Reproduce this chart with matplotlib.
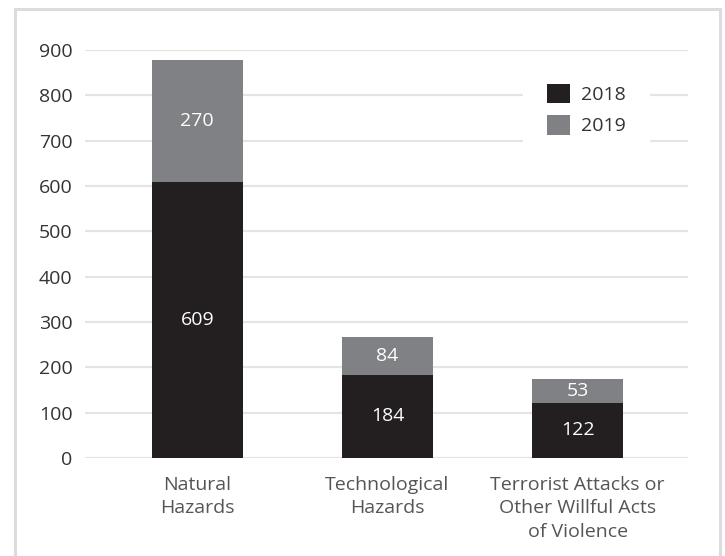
import matplotlib.pyplot as plt
from matplotlib.patches import Rectangle
import numpy as np

plt.rcParams['font.family'] = ['Open Sans', 'DejaVu Sans']

# data
categories = ["Natural\nHazards", "Technological\nHazards",
              "Terrorist Attacks or\nOther Willful Acts\nof Violence"]
series_2018 = [609, 184, 122]
series_2019 = [270, 84, 53]
yticks = [0, 100, 200, 300, 400, 500, 600, 700, 800, 900]

dark = "#231f20"
gray = "#808184"
grid_col = "#e4e4e4"

fig = plt.figure(figsize=(7.25, 5.56), dpi=100)
fig.patch.set_facecolor("white")

# light frame round the chart
fig.patches.append(Rectangle((15 / 725, -0.05), (720 - 15) / 725, 1.05 - 9 / 556,
                             transform=fig.transFigure, fill=False,
                             edgecolor="#dcdcdc", linewidth=2.2))

ax = fig.add_axes([85 / 725, 1 - 458 / 556, (688 - 85) / 725, (458 - 50) / 556])

x = np.arange(len(categories))
w = 0.478
b1 = ax.bar(x, series_2018, width=w, color=dark, label="2018", zorder=3)
b2 = ax.bar(x, series_2019, width=w, bottom=series_2018, color=gray,
            label="2019", zorder=3)

for rect, v in zip(b1, series_2018):
    ax.text(rect.get_x() + rect.get_width() / 2, rect.get_y() + rect.get_height() / 2,
            str(v), ha="center", va="center", color="white", fontsize=14, zorder=4)
for rect, v in zip(b2, series_2019):
    ax.text(rect.get_x() + rect.get_width() / 2, rect.get_y() + rect.get_height() / 2,
            str(v), ha="center", va="center", color="white", fontsize=14, zorder=4)

ax.set_ylim(0, 900)
ax.set_xlim(-0.59, 2.58)
ax.set_yticks(yticks)
ax.set_yticklabels([str(t) for t in yticks])
ax.set_xticks(x)
ax.set_xticklabels(categories)
ax.tick_params(axis="y", length=0, pad=9, labelsize=14, labelcolor="#333333")
ax.tick_params(axis="x", length=0, pad=13, labelsize=14, labelcolor="#555555")
for lbl in ax.get_xticklabels():
    lbl.set_linespacing(1.38)

ax.grid(axis="y", color=grid_col, linewidth=1.6, zorder=0)
for s in ax.spines.values():
    s.set_visible(False)

leg = ax.legend(loc="upper right", bbox_to_anchor=(0.935, 0.975), frameon=True,
                fontsize=14, handlelength=1.2, handleheight=1.2,
                handletextpad=0.55, labelspacing=0.55, borderpad=1.2,
                borderaxespad=0.0)
leg.get_frame().set_facecolor("white")
leg.get_frame().set_edgecolor("white")
leg.get_frame().set_alpha(1)
for t in leg.get_texts():
    t.set_color("#333333")

fig.savefig("out.png", dpi=100)
